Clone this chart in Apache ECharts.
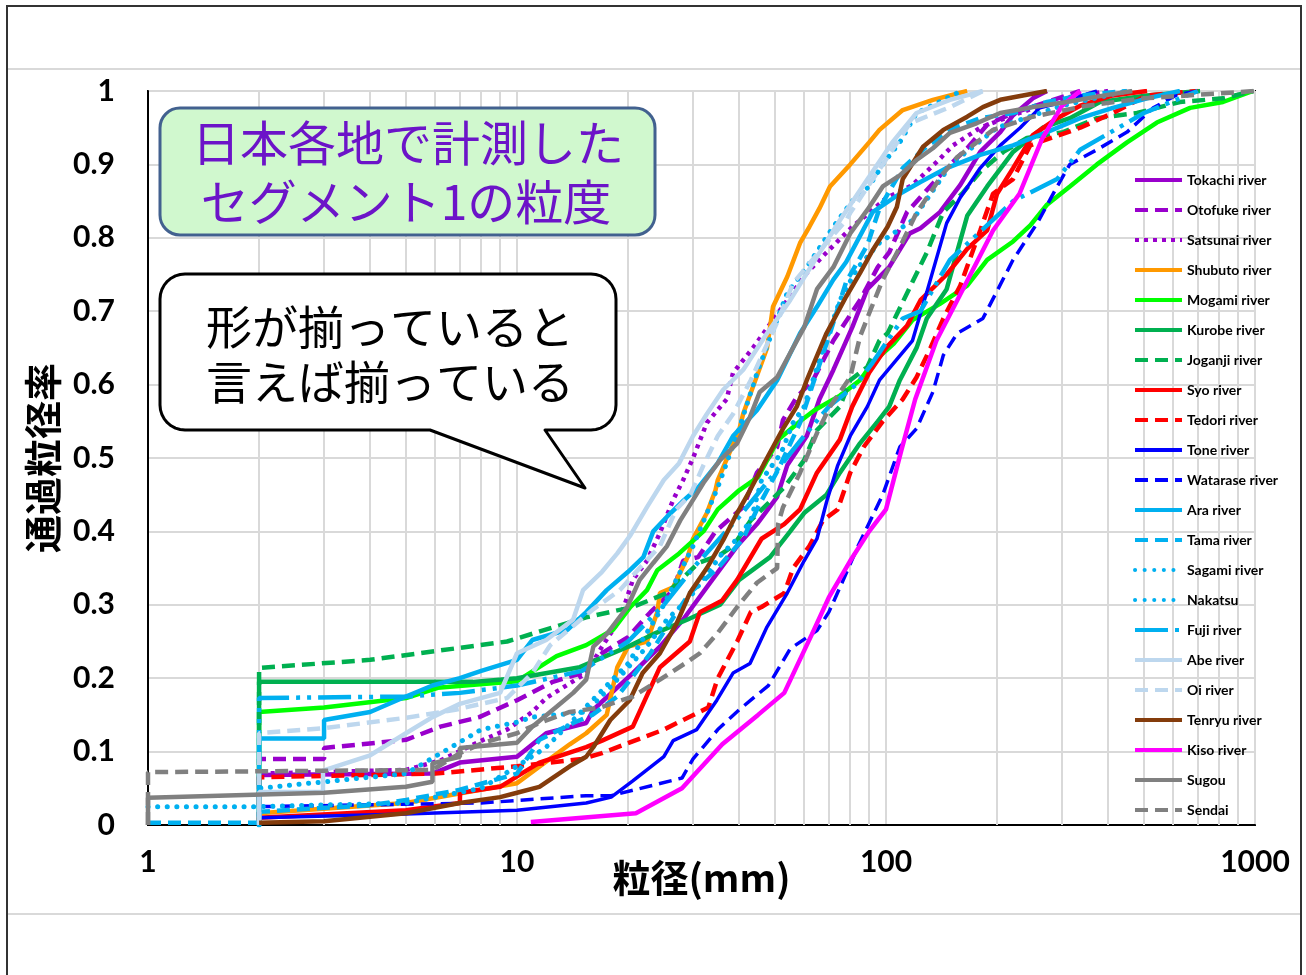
<!DOCTYPE html>
<html>
<head>
	<meta charset="utf-8" />
	<title>セグメント1の粒度</title>
	<script src="https://cdn.jsdelivr.net/npm/echarts@6/dist/echarts.min.js"></script>
	<style>html,body{margin:0;padding:0;background:#fff;}</style>
</head>
<body>
	<div id="main" style="width:1306px;height:975px;"></div>
	<script type="text/javascript">

		// 凡例の名前
		var riverNames = ['Tokachi river','Otofuke river','Satsunai river','Shubuto river','Mogami river',
			'Kurobe river','Joganji river','Syo river','Tedori river','Tone river','Watarase river',
			'Ara river','Tama river','Sagami river','Nakatsu','Fuji river','Abe river','Oi river',
			'Tenryu river','Kiso river','Sugou','Sendai'];

		// 粒径(mm) と 通過率
		var tokachi = [[2,0],[2,0.068],[5.9,0.07],[7,0.085],[10,0.093],[12,0.125],[15.4,0.139],[16.1,0.157],[20.6,0.207],[24.4,0.243],[28.2,0.28],[32.7,0.324],[39.5,0.38],[44.7,0.41],[50.7,0.447],[54,0.49],[61,0.53],[66,0.58],[72,0.62],[81,0.678],[89,0.73],[102,0.76],[116,0.806],[124,0.813],[140,0.835],[159,0.872],[180,0.917],[204,0.944],[221,0.967],[250,0.99],[273,1]];
		var otofuke = [[2,0],[2,0.09],[3,0.09],[3,0.105],[5,0.116],[6.2,0.134],[7.9,0.147],[10,0.17],[12.5,0.195],[15,0.207],[17,0.234],[20,0.256],[23,0.29],[26.5,0.32],[28.2,0.36],[31,0.365],[34.5,0.40],[41,0.433],[44.7,0.48],[50.7,0.515],[52.6,0.552],[57.3,0.583],[63.4,0.606],[72,0.66],[85,0.715],[95,0.76],[102,0.78],[114,0.835],[146,0.895],[166,0.922],[188,0.954],[221,0.97],[273,0.985],[336,1]];
		var satsunai = [[2,0],[2,0.07],[5,0.075],[6.2,0.088],[8.1,0.116],[9.4,0.13],[11,0.154],[12,0.173],[13.9,0.193],[15.4,0.207],[17,0.243],[19,0.28],[20.6,0.334],[22.5,0.36],[24.4,0.398],[26.5,0.443],[28.2,0.47],[30,0.5],[32.7,0.548],[37,0.58],[38.5,0.616],[43.6,0.65],[49.4,0.688],[54,0.715],[61,0.752],[69,0.78],[81,0.815],[92,0.838],[100,0.854],[118,0.872],[137,0.903],[152,0.926],[180,0.95],[221,0.967],[300,0.99],[400,1]];
		var shubuto = [[2,0],[2,0.016],[5,0.03],[10,0.057],[13.9,0.11],[15.4,0.125],[17.5,0.15],[18.7,0.215],[20,0.243],[22.5,0.25],[24,0.29],[24.4,0.316],[26.5,0.324],[29,0.365],[30,0.39],[32.7,0.425],[34.5,0.456],[35,0.47],[40,0.538],[41,0.56],[43.6,0.597],[47.6,0.65],[49.4,0.706],[54,0.747],[58.5,0.793],[62,0.815],[66,0.84],[70.5,0.87],[80,0.9],[90,0.93],[96,0.947],[111,0.974],[134,0.988],[166,1]];
		var mogami = [[2,0],[2,0.154],[3,0.16],[5,0.173],[6.1,0.187],[10,0.196],[12.8,0.23],[15.4,0.245],[18.2,0.266],[20.3,0.297],[22.5,0.32],[24,0.347],[27.5,0.37],[32,0.4],[35,0.43],[40,0.456],[45,0.474],[48,0.5],[51,0.525],[58.5,0.55],[64,0.565],[75,0.585],[85,0.606],[92,0.63],[105,0.656],[118,0.688],[140,0.71],[166,0.735],[188,0.77],[221,0.795],[246,0.817],[273,0.845],[315,0.87],[373,0.9],[450,0.93],[542,0.957],[667,0.977],[819,0.985],[988,1]];
		var kurobe = [[2,0],[2,0.195],[7.6,0.195],[10,0.2],[14.8,0.215],[20,0.243],[23.4,0.26],[29,0.28],[35.5,0.3],[40,0.334],[48.5,0.365],[55,0.4],[60,0.425],[69,0.45],[75,0.48],[85,0.52],[95,0.55],[102,0.57],[109,0.606],[121,0.65],[129,0.69],[146,0.73],[166,0.83],[188,0.87],[221,0.917],[266,0.95],[315,0.963],[380,0.985],[510,0.994],[710,1]];
		var joganji = [[2,0],[2,0.214],[4,0.225],[9.4,0.25],[15.4,0.283],[20.6,0.297],[25.5,0.316],[31,0.357],[35.5,0.368],[38.5,0.38],[43,0.415],[53,0.46],[60,0.497],[65,0.538],[75,0.57],[80,0.606],[89,0.624],[96,0.66],[101,0.67],[118,0.74],[129,0.78],[143,0.835],[162,0.862],[180,0.89],[208,0.917],[241,0.936],[302,0.944],[373,0.963],[479,0.97],[626,0.985],[820,0.99],[990,1]];
		var syo = [[2,0],[2,0.01],[5,0.02],[7,0.03],[7.01,0.044],[9,0.052],[11.5,0.085],[15.4,0.106],[17,0.115],[20.6,0.134],[24.4,0.215],[29.4,0.25],[31.3,0.29],[36,0.306],[39.5,0.334],[46,0.39],[53,0.41],[58.5,0.43],[65,0.48],[75,0.525],[81,0.57],[90,0.616],[100,0.65],[114,0.68],[124,0.715],[146,0.75],[166,0.785],[188,0.81],[200,0.86],[221,0.895],[250,0.94],[291,0.963],[336,0.98],[412,0.994],[510,1]];
		var tedori = [[2,0],[2,0.065],[6,0.07],[10,0.08],[15,0.09],[17,0.098],[25,0.13],[33,0.16],[35,0.2],[39.5,0.25],[43,0.29],[46,0.297],[53,0.316],[56,0.35],[62,0.38],[67.5,0.415],[74,0.43],[80,0.48],[87,0.515],[98,0.55],[111,0.58],[121,0.61],[132,0.65],[143,0.69],[159,0.735],[180,0.81],[195,0.86],[221,0.88],[246,0.926],[336,0.95],[412,0.97],[510,0.994],[700,1]];
		var tone = [[2,0],[2,0.01],[5,0.015],[10,0.02],[15.4,0.03],[18,0.038],[20.6,0.06],[25,0.093],[26.5,0.115],[30.7,0.13],[34.8,0.17],[38.5,0.207],[42.8,0.22],[47.6,0.27],[54,0.316],[60,0.36],[65,0.39],[69,0.44],[74,0.49],[80,0.53],[89,0.57],[96,0.606],[118,0.66],[129,0.726],[146,0.82],[159,0.855],[180,0.895],[204,0.926],[231,0.95],[261,0.977],[302,0.985],[373,1]];
		var watarase = [[2,0],[2,0.025],[8,0.03],[15.4,0.04],[18,0.04],[28,0.064],[30,0.09],[35,0.13],[40,0.157],[48,0.19],[55,0.24],[65,0.265],[70,0.29],[76,0.33],[84,0.38],[98,0.45],[109,0.515],[121,0.54],[134,0.59],[143,0.64],[156,0.67],[183,0.69],[221,0.77],[257,0.82],[291,0.87],[315,0.9],[373,0.92],[450,0.944],[530,0.977],[615,0.995],[700,1]];
		var ara = [[2,0],[2,0.118],[3,0.118],[3,0.143],[4,0.154],[5,0.175],[5.9,0.19],[7,0.2],[8,0.21],[10,0.225],[11,0.252],[13.7,0.266],[15.4,0.29],[17.5,0.32],[20,0.345],[22,0.365],[23.4,0.4],[25.5,0.42],[28,0.44],[31,0.46],[35,0.493],[38.5,0.53],[44.7,0.565],[50.7,0.606],[58.5,0.67],[65,0.706],[72,0.743],[78,0.767],[92,0.835],[109,0.86],[124,0.876],[146,0.895],[180,0.913],[221,0.926],[273,0.944],[336,0.963],[412,0.977],[510,0.99],[626,1]];
		var tama = [[1,0.003],[2,0.003],[2,0.018],[4,0.027],[5,0.034],[7,0.048],[10,0.07],[11.5,0.116],[14.2,0.139],[16,0.15],[18.7,0.175],[23,0.234],[25.5,0.27],[29.4,0.316],[35,0.35],[41,0.39],[45,0.433],[51,0.484],[58.5,0.548],[63,0.597],[70,0.665],[78,0.74],[89,0.79],[96,0.84],[111,0.895],[130,0.926],[154,0.95],[180,0.963],[221,0.97],[273,0.985],[336,0.994],[450,1]];
		var sagami = [[2,0],[2,0.05],[5,0.07],[8,0.13],[10,0.14],[11,0.147],[15.4,0.154],[18.7,0.198],[22.5,0.243],[25.5,0.28],[29.4,0.31],[36,0.37],[39.5,0.39],[43,0.415],[46,0.47],[52,0.507],[56,0.548],[60,0.57],[66,0.633],[75,0.715],[84,0.76],[96,0.793],[118,0.824],[150,0.9],[200,0.95],[300,0.98],[450,1]];
		var nakatsu = [[1,0.025],[2,0.025],[5,0.03],[8,0.05],[10,0.08],[12,0.106],[14.2,0.143],[16,0.17],[20,0.22],[25,0.3],[30,0.38],[35,0.46],[40,0.54],[45,0.62],[54,0.725],[61,0.76],[72,0.815],[81,0.85],[90,0.87],[98,0.9],[109,0.93],[121,0.97],[160,1]];
		var fuji = [[2,0],[2,0.173],[5,0.175],[7,0.18],[10,0.19],[15,0.21],[20,0.25],[25,0.3],[30,0.35],[40,0.42],[50,0.48],[60,0.53],[70,0.57],[83,0.6],[92,0.63],[111,0.69],[124,0.7],[149,0.77],[221,0.85],[291,0.88],[336,0.92],[500,0.97],[700,1]];
		var abe = [[2,0],[2,0.045],[2.98,0.045],[2.98,0.074],[4,0.095],[5,0.125],[5.9,0.147],[7,0.165],[9,0.18],[10,0.234],[12,0.252],[14.2,0.28],[15.1,0.32],[17,0.345],[18.7,0.37],[20.3,0.395],[22.5,0.433],[25,0.47],[27.5,0.493],[30,0.53],[32.7,0.56],[36.2,0.593],[41,0.62],[47.6,0.67],[55,0.715],[65,0.774],[75,0.824],[90,0.883],[104,0.93],[121,0.97],[149,0.988],[183,1]];
		var oi = [[2,0],[2,0.125],[3,0.132],[5,0.146],[6.8,0.157],[9.4,0.173],[11,0.207],[12.3,0.245],[16,0.293],[19,0.32],[20.6,0.34],[24.4,0.38],[27,0.43],[29.5,0.45],[32,0.49],[35,0.53],[38.5,0.56],[43,0.606],[51,0.688],[56,0.738],[69,0.793],[78,0.824],[80,0.834],[98,0.9],[116,0.956],[149,0.978],[183,1]];
		var tenryu = [[2,0.003],[3,0.005],[5,0.016],[7,0.03],[9,0.038],[10,0.044],[11.5,0.052],[13.9,0.08],[15.4,0.093],[16.1,0.106],[17.9,0.143],[20.2,0.17],[21.9,0.207],[24.4,0.234],[27.1,0.275],[29.4,0.316],[32.7,0.35],[36.2,0.388],[39.5,0.425],[42.8,0.456],[47.6,0.5],[52.6,0.54],[57.3,0.57],[61,0.606],[69,0.67],[78,0.72],[85,0.752],[92,0.783],[101,0.815],[107,0.842],[111,0.88],[126,0.924],[143,0.947],[166,0.965],[183,0.978],[204,0.988],[273,1]];
		var kiso = [[10.9,0.004],[21,0.016],[28,0.05],[36,0.11],[45,0.15],[53,0.18],[63,0.26],[70,0.31],[80,0.36],[90,0.4],[100,0.43],[110,0.51],[120,0.58],[137,0.66],[156,0.715],[195,0.81],[230,0.86],[265,0.935],[300,0.98],[336,1]];
		var sugou = [[1,0],[1,0.037],[3,0.044],[5,0.052],[5.9,0.059],[5.9,0.084],[7,0.093],[7,0.105],[10,0.112],[11,0.134],[12.8,0.161],[14.2,0.18],[15.4,0.198],[16.1,0.243],[17.5,0.26],[19.9,0.297],[21.5,0.334],[23.4,0.357],[25.5,0.38],[27.7,0.415],[30,0.443],[32,0.466],[35.5,0.497],[39.5,0.52],[42.8,0.556],[45.5,0.59],[50.7,0.61],[55,0.643],[60,0.678],[65,0.73],[72,0.76],[80,0.806],[89,0.838],[98,0.87],[109,0.885],[121,0.906],[134,0.922],[149,0.943],[176,0.956],[204,0.97],[250,0.978],[309,0.985],[380,0.993],[465,1]];
		var sendai = [[1,0],[1,0.072],[5.9,0.075],[7,0.098],[8.1,0.112],[10,0.125],[11.5,0.139],[13.9,0.154],[16.8,0.16],[18.2,0.166],[20.6,0.175],[24.4,0.198],[28.5,0.22],[31.3,0.234],[34.8,0.26],[39.5,0.297],[44.7,0.33],[50.7,0.35],[51,0.41],[52.6,0.433],[58.5,0.48],[65,0.534],[70.5,0.57],[80,0.61],[85,0.665],[90.5,0.7],[98,0.743],[109,0.787],[121,0.834],[143,0.888],[156,0.91],[176,0.93],[195,0.947],[250,0.965],[350,0.98],[500,0.99],[1000,1]];

		// 目盛り
		var xTicks = ['1','10','100','1000'];
		var xMinorGrid = [2,3,4,5,6,7,8,9,20,30,40,50,60,70,80,90,200,300,400,500,600,700,800,900];

		var myChart = echarts.init(document.getElementById('main'));

		var dash = [13, 7];
		var roundDot = [0.1, 9.5];
		var squareDot = [4, 5];
		var longDashDotDot = [33, 7, 4, 7, 4, 7];

		function line(name, data, color, type, width, cap) {
			return {
				name: name,
				type: 'line',
				data: data,
				showSymbol: false,
				symbol: 'none',
				smooth: false,
				z: 3,
				lineStyle: {color: color, width: width || 4.5, type: type, cap: cap || 'butt'},
				itemStyle: {color: color}
			};
		}

		// 吹き出しの輪郭 (角丸 + しっぽ)
		function bubblePoints(x, y, w, h, r, tail) {
			var pts = [];
			function arc(cx, cy, a0, a1) {
				for (var i = 0; i <= 8; i++) {
					var a = a0 + (a1 - a0) * i / 8;
					pts.push([cx + r * Math.cos(a), cy + r * Math.sin(a)]);
				}
			}
			arc(x + r, y + r, Math.PI, Math.PI * 1.5);
			arc(x + w - r, y + r, Math.PI * 1.5, Math.PI * 2);
			arc(x + w - r, y + h - r, 0, Math.PI * 0.5);
			tail.forEach(function(p){ pts.push(p); });
			arc(x + r, y + h - r, Math.PI * 0.5, Math.PI);
			return pts;
		}

		var series = [
			{
				name: 'grid',
				type: 'line',
				data: [],
				z: 1,
				silent: true,
				markLine: {
					silent: true,
					z: 1,
					zlevel: 0,
					symbol: 'none',
					label: {show: false},
					emphasis: {disabled: true},
					lineStyle: {color: '#D9D9D9', width: 2, type: 'solid'},
					data: xMinorGrid.map(function(v){ return {xAxis: v}; })
				}
			},
			line('Tokachi river', tokachi, '#9900CC', 'solid'),
			line('Otofuke river', otofuke, '#9900CC', dash),
			line('Satsunai river', satsunai, '#9900CC', squareDot),
			line('Shubuto river', shubuto, '#FF9900', 'solid'),
			line('Mogami river', mogami, '#00FF00', 'solid'),
			line('Kurobe river', kurobe, '#00B050', 'solid'),
			line('Joganji river', joganji, '#00B050', dash),
			line('Syo river', syo, '#FF0000', 'solid'),
			line('Tedori river', tedori, '#FF0000', dash),
			line('Tone river', tone, '#0000FF', 'solid', 3.5),
			line('Watarase river', watarase, '#0000FF', dash, 3.5),
			line('Ara river', ara, '#00B0F0', 'solid'),
			line('Tama river', tama, '#00B0F0', dash),
			line('Sagami river', sagami, '#00B0F0', roundDot, 5, 'round'),
			line('Nakatsu', nakatsu, '#00B0F0', roundDot, 5, 'round'),
			line('Fuji river', fuji, '#00B0F0', longDashDotDot),
			line('Abe river', abe, '#BDD7EE', 'solid'),
			line('Oi river', oi, '#BDD7EE', dash),
			line('Tenryu river', tenryu, '#843C0C', 'solid'),
			line('Kiso river', kiso, '#FF00FF', 'solid'),
			line('Sugou', sugou, '#808080', 'solid'),
			line('Sendai', sendai, '#808080', dash)
		];

		var tickFont = {fontFamily: 'Lato', fontWeight: 'bold', fontSize: 30, color: '#000'};
		var nameFont = {fontFamily: 'Noto Sans CJK JP', fontWeight: 'bold', fontSize: 38, color: '#000'};

		var option = {
			animation: false,
			backgroundColor: '#fff',
			grid: {left: 148, right: 51, top: 91, bottom: 150, show: true, borderColor: '#000', borderWidth: 2},
			legend: {
				orient: 'vertical',
				left: 1133,
				top: 173,
				z: 20,
				padding: 0,
				itemWidth: 47,
				itemHeight: 14,
				itemGap: 16,
				selectedMode: false,
				itemStyle: {opacity: 0},
				lineStyle: {width: 4},
				textStyle: {fontFamily: 'Lato', fontWeight: 'bold', fontSize: 14, color: '#000'},
				data: riverNames
			},
			xAxis: {
				type: 'log',
				logBase: 10,
				min: 1,
				max: 1000,
				axisLine: {show: true, lineStyle: {color: '#000', width: 2}},
				axisTick: {show: false},
				splitLine: {show: true, lineStyle: {color: '#D9D9D9', width: 2}},
				axisLabel: Object.assign({margin: 22, showMinLabel: true, showMaxLabel: true,
					formatter: function(v){ var i = Math.round(Math.log10(v)); return xTicks[i]; }}, tickFont),
				name: '粒径(mm)',
				nameLocation: 'middle',
				nameGap: 34,
				nameMoveOverlap: false,
				nameTextStyle: nameFont
			},
			yAxis: {
				type: 'value',
				min: 0,
				max: 1,
				interval: 0.1,
				axisLine: {show: true, lineStyle: {color: '#000', width: 2}},
				axisTick: {show: false},
				splitLine: {show: true, lineStyle: {color: '#D9D9D9', width: 2}},
				axisLabel: Object.assign({margin: 33}, tickFont),
				name: '通過粒径率',
				nameLocation: 'middle',
				nameGap: 86,
				nameMoveOverlap: false,
				nameTextStyle: nameFont
			},
			graphic: [
				// 外枠
				{type: 'rect', silent: true, z: 0, shape: {x: 7, y: 6, width: 1294, height: 990},
					style: {fill: null, stroke: '#333', lineWidth: 2}},
				{type: 'line', silent: true, shape: {x1: 8, y1: 69, x2: 1300, y2: 69}, style: {stroke: '#D9D9D9', lineWidth: 2}},
				{type: 'line', silent: true, shape: {x1: 8, y1: 914, x2: 1300, y2: 914}, style: {stroke: '#D9D9D9', lineWidth: 2}},
				// 緑の見出し
				{type: 'rect', z: 10, shape: {x: 160, y: 108, width: 495, height: 127, r: 20},
					style: {fill: '#D0F8CE', stroke: '#42618F', lineWidth: 3}},
				{type: 'text', z: 11, style: {text: '日本各地で計測した', x: 408, y: 143, align: 'center', verticalAlign: 'middle',
					fontFamily: 'Noto Sans CJK JP', fontSize: 48, fill: '#6C14C8'}},
				{type: 'text', z: 11, style: {text: 'セグメント1の粒度', x: 406, y: 202, align: 'center', verticalAlign: 'middle',
					fontFamily: 'Noto Sans CJK JP', fontSize: 48, fill: '#6C14C8'}},
				// 吹き出し
				{type: 'polygon', z: 10, shape: {points: bubblePoints(160, 274, 456, 156, 25, [[545, 430], [585, 488], [430, 430]])},
					style: {fill: '#fff', stroke: '#000', lineWidth: 3, lineJoin: 'round'}},
				{type: 'text', z: 11, style: {text: '形が揃っていると', x: 390, y: 327, align: 'center', verticalAlign: 'middle',
					fontFamily: 'Noto Sans CJK JP', fontSize: 46, fill: '#000'}},
				{type: 'text', z: 11, style: {text: '言えば揃っている', x: 390, y: 382, align: 'center', verticalAlign: 'middle',
					fontFamily: 'Noto Sans CJK JP', fontSize: 46, fill: '#000'}}
			],
			series: series
		};

		myChart.setOption(option);

	</script>
</body>
</html>
